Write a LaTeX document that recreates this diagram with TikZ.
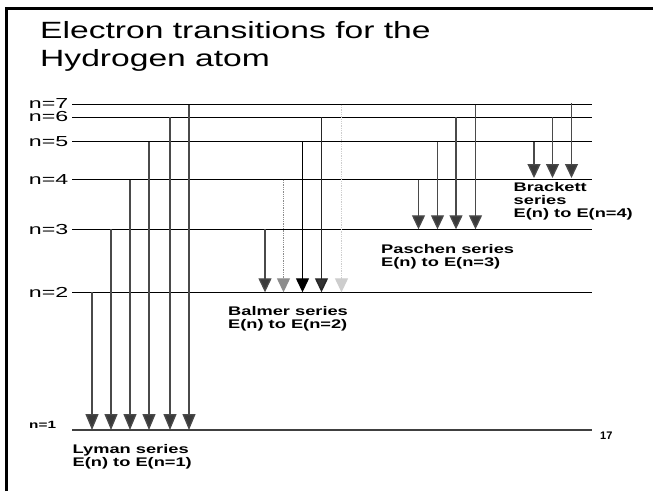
\documentclass[tikz,border=0pt]{standalone}
\usepackage{fontspec}
\setmainfont{Liberation Sans}
\newfontfamily\ttlfont[FakeStretch=1.43]{Liberation Sans}
\newfontfamily\lvlfont[FakeStretch=1.6]{Liberation Sans}
\newfontfamily\serfont[FakeStretch=1.46]{Liberation Sans}
\usetikzlibrary{arrows.meta}
\definecolor{shaftgray}{HTML}{4A4A4A}
\definecolor{headgray}{HTML}{3A3A3A}
\definecolor{midgray}{HTML}{8C8C8C}
\definecolor{palegray}{HTML}{CDCDCD}
\tikzset{
  level/.style={line width=1.1pt, black},
  lvllab/.style={inner sep=0pt, anchor=east, font=\lvlfont\fontsize{14.5}{16}\selectfont},
  serlab/.style={inner sep=0pt, anchor=base west, font=\serfont\bfseries\fontsize{12.5}{13}\selectfont},
  ttllab/.style={inner sep=0pt, anchor=base west, font=\ttlfont\fontsize{23.5}{28}\selectfont},
  trans/.style={line width=1.3pt, shaftgray, -{Triangle[width=13pt,length=14pt,fill=headgray]}},
  translong/.style={trans, -{Triangle[width=13pt,length=16pt,fill=headgray]}},
}
\begin{document}
\begin{tikzpicture}[x=1pt,y=-1pt]
\useasboundingbox (0,0) rectangle (653,491);
\fill[white] (0,0) rectangle (653,491);
% frame
\draw[line width=2.5pt, black] (6.5,491) -- (6.5,8.5) -- (653,8.5);

% title
\node[ttllab] (t1) at (40,38) {Electron transitions for the};
\node[ttllab] (t2) at (40,66) {Hydrogen atom};

% energy levels
\coordinate (E7a) at (72,104.7); \coordinate (E7b) at (592,104.7);
\coordinate (E6a) at (72,117.3); \coordinate (E6b) at (592,117.3);
\coordinate (E5a) at (72,141.7); \coordinate (E5b) at (592,141.7);
\coordinate (E4a) at (72,179.7); \coordinate (E4b) at (592,179.7);
\coordinate (E3a) at (72,229.3); \coordinate (E3b) at (592,229.3);
\coordinate (E2a) at (72,292.3); \coordinate (E2b) at (592,292.3);
\coordinate (E1a) at (72,430);   \coordinate (E1b) at (592,430);
\foreach \k in {7,6,5,4,3,2} { \draw[level] (E\k a) -- (E\k b); }
\draw[line width=1.1pt, black!75] (E1a) -- (E1b);

\node[lvllab] (n7) at (68.5,103.6) {n=7};
\node[lvllab] (n6) at (68.5,116.8) {n=6};
\node[lvllab] (n5) at (68.5,141.7) {n=5};
\node[lvllab] (n4) at (68.5,179.7) {n=4};
\node[lvllab] (n3) at (68.5,229.3) {n=3};
\node[lvllab] (n2) at (68.5,292.3) {n=2};
\node[inner sep=0pt, anchor=base west, font=\serfont\bfseries\fontsize{10.5}{12}\selectfont] (n1) at (29,428.5) {n=1};
\node[inner sep=0pt, anchor=base west, font=\bfseries\fontsize{11}{12}\selectfont] (pg) at (600,439.3) {17};

% Lyman
\coordinate (Ly2s) at (92,292.3);  \coordinate (Ly2e) at (92,430);
\coordinate (Ly3s) at (111,229.3); \coordinate (Ly3e) at (111,430);
\coordinate (Ly4s) at (130,179.7); \coordinate (Ly4e) at (130,430);
\coordinate (Ly5s) at (149,141.7); \coordinate (Ly5e) at (149,430);
\coordinate (Ly6s) at (170,117.3); \coordinate (Ly6e) at (170,430);
\coordinate (Ly7s) at (189,104.7); \coordinate (Ly7e) at (189,430);
\foreach \k in {2,...,7} { \draw[translong] (Ly\k s) -- (Ly\k e); }

% Balmer
\coordinate (Ba3s) at (265,229.3);   \coordinate (Ba3e) at (265,292.3);
\coordinate (Ba4s) at (283.5,179.7); \coordinate (Ba4e) at (283.5,292.3);
\coordinate (Ba5s) at (302.5,141.7); \coordinate (Ba5e) at (302.5,292.3);
\coordinate (Ba6s) at (321.5,117.3); \coordinate (Ba6e) at (321.5,292.3);
\coordinate (Ba7s) at (341.5,104.7); \coordinate (Ba7e) at (341.5,292.3);
\draw[trans] (Ba3s) -- (Ba3e);
\draw[trans, midgray, densely dotted, -{Triangle[width=13pt,length=14pt,fill=midgray]}] (Ba4s) -- (Ba4e);
\draw[trans, black, -{Triangle[width=13pt,length=14pt,fill=black]}] (Ba5s) -- (Ba5e);
\draw[trans, black!85, -{Triangle[width=13pt,length=14pt,fill=black!80]}] (Ba6s) -- (Ba6e);
\draw[trans, palegray, densely dotted, -{Triangle[width=13pt,length=14pt,fill=palegray]}] (Ba7s) -- (Ba7e);

% Paschen
\coordinate (Pa4s) at (418.5,179.7); \coordinate (Pa4e) at (418.5,229.3);
\coordinate (Pa5s) at (437.5,141.7); \coordinate (Pa5e) at (437.5,229.3);
\coordinate (Pa6s) at (456,117.3);   \coordinate (Pa6e) at (456,229.3);
\coordinate (Pa7s) at (475.5,104.7); \coordinate (Pa7e) at (475.5,229.3);
\foreach \k in {4,...,7} { \draw[trans] (Pa\k s) -- (Pa\k e); }

% Brackett
\coordinate (Br5s) at (534,141.7);   \coordinate (Br5e) at (534,178);
\coordinate (Br6s) at (552.5,117.3); \coordinate (Br6e) at (552.5,178);
\coordinate (Br7s) at (571.5,103);   \coordinate (Br7e) at (571.5,178);
\foreach \k in {5,6,7} { \draw[trans] (Br\k s) -- (Br\k e); }

% series labels
\node[serlab] (ly1) at (72.5,453.3) {Lyman series};
\node[serlab] (ly2) at (72.5,466.7) {E(n) to E(n=1)};
\node[serlab] (ba1) at (228,315.7) {Balmer series};
\node[serlab] (ba2) at (228,328.3) {E(n) to E(n=2)};
\node[serlab] (pa1) at (381,253.3) {Paschen series};
\node[serlab] (pa2) at (381,266.7) {E(n) to E(n=3)};
\node[serlab] (br1) at (513.5,191.5) {Brackett};
\node[serlab] (br2) at (513.5,204) {series};
\node[serlab] (br3) at (513.5,217.3) {E(n) to E(n=4)};
\end{tikzpicture}
\end{document}
